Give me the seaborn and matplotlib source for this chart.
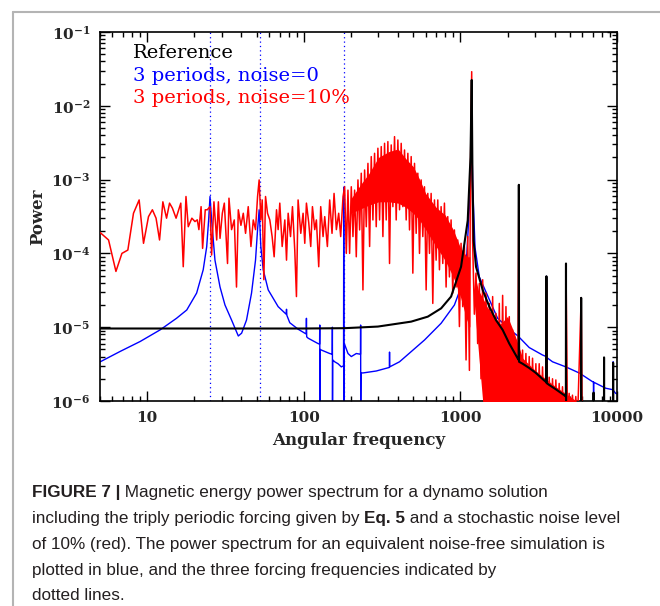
import numpy as np
import pandas as pd
import seaborn as sns
import matplotlib.pyplot as plt
from matplotlib.lines import Line2D
from matplotlib.ticker import FixedLocator, FixedFormatter, LogLocator, NullFormatter

# forcing frequencies (dotted lines)
forcing_freq = [25.2, 52.5, 180.0]

# reference run (black)
ref_freq = [5.0, 100, 182.4, 297.4, 485.1, 619.4, 753.3, 872.3, 1010, 1114, 1160, 1181, 1195, 1215,
            1258, 1388, 1530, 1687, 1861, 2052, 2318, 2355, 2362, 2370, 2495, 2751, 3034, 3428,
            3535, 3543, 3551, 3690, 4069, 4597, 4715, 4724, 4733, 5895, 5905, 5915, 7078, 7086,
            7094, 8258, 8267, 8276, 9440, 9448, 9456, 10000]
ref_power = [9.6e-6, 9.6e-6, 9.7e-6, 1.02e-5, 1.19e-5, 1.39e-5, 1.8e-5, 2.6e-5, 6.6e-5, 2.8e-4, 2.0e-3,
             2.24e-2, 1.0e-3, 1.5e-4, 6.6e-5, 3.2e-5, 1.9e-5, 1.25e-5, 9.2e-6, 6.0e-6, 3.8e-6, 3.6e-6,
             8.5e-4, 3.4e-6, 3.2e-6, 2.8e-6, 2.4e-6, 1.9e-6, 1.8e-6, 4.9e-5, 1.75e-6, 1.65e-6, 1.44e-6,
             1.2e-6, 1.15e-6, 7.3e-5, 8e-7, 7e-7, 2.5e-5, 7e-7, 7e-7, 1.3e-6, 7e-7, 7e-7, 3.9e-6,
             7e-7, 7e-7, 3.3e-6, 7e-7, 7e-7]

# 3 periods, noise=0 (blue)
blue_freq = [5.02, 6.73, 9.02, 12.1, 15.4, 17.9, 20.7, 22.8, 24.0, 24.7, 25.2, 25.8, 27.1, 29.2, 31.4,
             34.6, 38.2, 40.1, 43.1, 46.4, 49.2, 50.7, 51.9, 53.2, 55.1, 59.3, 68.6, 77.2, 77.6, 78.0,
             81.4, 92.0, 101.5, 103.6, 104.0, 104.4, 106.6, 123.4, 126.2, 126.5, 126.8, 127.2, 129.6,
             146.4, 152.0, 152.3, 152.6, 153.0, 157.6, 165.4, 173.7, 179.5, 180.0, 180.5, 181.5,
             191.6, 201.2, 216.5, 230.3, 230.7, 231.1, 231.8, 238.8, 290.3, 352.0, 352.9, 353.8,
             408.8, 589.9, 753.3, 916.0, 1010, 1100, 1160, 1181, 1200, 1240, 1321, 1729, 2208, 2355,
             2362, 2368, 2375, 2751, 3346, 3535, 3543, 3551, 3875, 4712, 5730, 5895, 5905, 5915,
             6968, 7080, 7086, 7092, 8469, 9440, 9448, 9456, 9801, 10000]
blue_power = [3.4e-6, 4.7e-6, 6.4e-6, 9.2e-6, 1.32e-5, 1.71e-5, 2.9e-5, 6.0e-5, 1.23e-4, 2.84e-4, 5.9e-4,
              2.84e-4, 8.1e-5, 3.5e-5, 2.0e-5, 1.25e-5, 7.6e-6, 8.3e-6, 1.25e-5, 2.9e-5, 8.1e-5, 2.1e-4,
              3.9e-4, 1.24e-4, 6.0e-5, 3.2e-5, 1.9e-5, 1.5e-5, 1.75e-5, 1.45e-5, 1.15e-5, 9.4e-6, 8.3e-6,
              8.1e-6, 1.32e-5, 7.4e-6, 7.1e-6, 6.0e-6, 5.9e-6, 1.07e-5, 9e-7, 5.0e-6, 4.9e-6, 4.4e-6,
              4.3e-6, 1.0e-5, 9e-7, 3.6e-6, 3.4e-6, 3.2e-6, 2.9e-6, 3.0e-6, 7.9e-4, 9e-7, 6.0e-6,
              4.4e-6, 4.0e-6, 4.4e-6, 4.3e-6, 1.07e-5, 1.0e-6, 2.4e-6, 2.4e-6, 2.55e-6, 2.85e-6, 4.6e-6,
              2.9e-6, 3.4e-6, 6.7e-6, 1.13e-5, 2.0e-5, 3.5e-5, 1.0e-4, 8e-4, 4e-3, 8e-4, 1.2e-4, 4.8e-5,
              1.32e-5, 8.3e-6, 7.5e-6, 8e-4, 9e-7, 7.3e-6, 5.3e-6, 4.2e-6, 4.0e-6, 4.9e-5, 3.9e-6,
              3.4e-6, 2.9e-6, 2.4e-6, 2.35e-6, 2.5e-5, 2.3e-6, 1.83e-6, 1.8e-6, 1.2e-6, 1.8e-6,
              1.49e-6, 1.42e-6, 3.4e-6, 1.4e-6, 1.27e-6, 1.25e-6]

# 3 periods, noise=10% (red)
red_freq = [5.02, 5.67, 6.32, 6.90, 7.53, 8.18, 8.89, 9.48, 10.2, 10.8, 11.4, 12.0, 12.6, 13.3, 13.9,
            14.5, 15.3, 16.4, 17.0, 17.7, 18.3, 19.3, 20.2, 20.9, 21.4, 22.1, 22.6, 23.5, 24.2, 25.2,
            25.8, 26.7, 27.8, 28.5, 29.2, 30.2, 31.1,
            32.6, 33.3, 34.6, 36.0, 37.2, 38.2, 39.7, 41.1, 42.5, 44.2, 46.0, 47.6, 49.2, 50.7, 51.9,
            53.2, 54.3, 55.6, 57.0, 58.7, 60.7, 62.8, 64.7, 67.0, 68.6, 70.3, 72.8, 75.7, 77.6, 79.5,
            82.3, 84.7, 87.6, 89.8, 92.0, 95.7, 99.0, 101.5, 104.0, 107.6, 110.8, 113.6, 117.5, 120.4,
            124.6, 128.3, 132.8, 136.1, 141.5, 146.4, 151.5, 156.1, 161.5, 167.1, 172.1, 178.1,
            182.4, 186.9, 191.5, 196.2, 201.1, 206.1, 211.2, 216.4, 221.8, 227.3, 232.9, 238.7,
            244.6, 250.7, 256.9, 263.3, 269.7, 276.4, 283.2, 290.2, 297.4, 304.8, 312.4, 320.1,
            328.0, 336.1, 344.4, 352.9, 361.7, 370.7, 379.8, 389.2, 398.9, 408.8, 418.9, 429.3,
            439.9, 450.8, 461.9, 473.4, 485.1, 497.1, 509.4, 522.0, 534.9, 548.2, 561.7, 575.6,
            589.9, 604.5, 619.4, 634.8, 650.5, 666.6, 683.1, 700.0, 717.3, 735.1, 753.3, 772.0,
            791.0, 810.6, 830.6, 851.2, 872.3, 893.9, 916.0, 938.7, 961.9, 985.7, 1010, 1035,
            1061, 1087, 1114, 1142, 1160, 1181,
            1198, 1228, 1258, 1289, 1321, 1354, 1388, 1422, 1457, 1493, 1530, 1568, 1607, 1647,
            1687, 1729, 1772, 1816, 1861, 1907, 1954, 2002, 2052, 2103, 2155, 2208, 2263, 2319,
            2362, 2376, 2435, 2495, 2557, 2620, 2685, 2751, 2819, 2889, 2961, 3034, 3109, 3186,
            3265, 3346, 3429, 3514, 3543, 3601, 3690, 3781, 3875, 3971, 4069, 4170, 4273, 4379,
            4487, 4598, 4712, 4724, 4829, 4948, 5071, 5196, 5325, 5456, 5591, 5905, 6000]
red_power = [1.91e-4, 1.52e-4, 5.7e-5, 1.0e-4, 1.11e-4, 3.5e-4, 5.3e-4, 1.37e-4, 3.15e-4, 3.9e-4,
             3.0e-4, 1.52e-4, 5.0e-4, 3.0e-4, 4.8e-4, 4.1e-4, 3.0e-4, 4.8e-4, 6.6e-5, 5.9e-4, 2.3e-4,
             3.0e-4, 2.7e-4, 2.85e-4, 2.1e-4, 4.3e-4, 1.17e-4, 3.9e-4, 3.9e-4, 4.3e-4, 9.5e-5, 5.0e-4,
             1.52e-4, 5.0e-4, 1.6e-4, 3.5e-4, 4.8e-4,
             7.3e-5, 5.6e-4, 2.1e-4, 2.84e-4, 3.5e-5, 3.9e-4, 2.4e-4, 3.5e-4, 1.87e-4, 4.3e-4, 1.24e-4,
             2.84e-4, 2.1e-4, 5.9e-4, 9.9e-4, 2.84e-4, 5.3e-4, 4.4e-5, 5.9e-4, 3.5e-4, 2.84e-4,
             1.69e-4, 9.0e-5, 3.9e-4, 2.1e-4, 4.8e-4, 1.24e-4, 2.84e-4, 8.1e-5, 3.5e-4, 1.69e-4,
             4.3e-4, 1.11e-4, 2.6e-5, 5.3e-4, 1.87e-4, 3.5e-4, 1.37e-4, 4.8e-4, 2.6e-4, 1.24e-4,
             4.3e-4, 2.1e-4, 2.84e-4, 6.6e-5, 4.3e-4, 1.69e-4, 3.15e-4, 1.24e-4, 5.3e-4, 1.87e-4,
             6.5e-4, 2.1e-4, 3.5e-4, 1.69e-4, 5.9e-4,
             8.0e-4, 1.0e-4, 7.2e-4, 1.0e-4, 8.0e-4, 1.69e-4, 7.2e-4, 9.0e-5, 9.9e-4, 2.08e-4,
             1.22e-3, 3.2e-5, 1.35e-3, 2.3e-4, 1.66e-3, 1.24e-4, 2.05e-3, 2.84e-4, 2.27e-3, 2.3e-4,
             2.66e-3, 2.84e-4, 2.80e-3, 1.69e-4, 3.10e-3, 2.84e-4, 3.27e-3, 7.3e-5, 2.95e-3, 4.3e-4,
             3.82e-3, 2.84e-4, 3.44e-3, 3.9e-4, 3.10e-3, 4.3e-4, 2.52e-3, 2.84e-4, 2.27e-3, 2.08e-4,
             2.05e-3, 5.4e-5, 1.66e-3, 1.87e-4, 1.22e-3, 1.0e-4, 9.9e-4, 1.69e-4, 8.0e-4, 3.2e-5,
             6.5e-4, 1.0e-4, 6.5e-4, 2.1e-5, 5.3e-4, 8.1e-5, 5.3e-4, 6.0e-5, 4.3e-4, 7.3e-5,
             4.8e-4, 3.5e-5, 3.15e-4, 4.8e-5, 2.84e-4, 2.9e-5, 2.08e-4, 3.5e-5, 1.52e-4, 1.02e-5,
             1.37e-4, 1.9e-5, 1.24e-4, 3.6e-6, 1.69e-4, 2.6e-6, 1.5e-3, 2.9e-2,
             1.37e-4, 1.5e-5, 5.4e-5, 6e-6, 3.9e-5, 2e-6, 4.4e-5, 6e-7, 2.9e-5, 5e-7, 2.1e-5, 5e-7,
             2.6e-5, 5e-7, 1.54e-5, 5e-7, 2.1e-5, 5e-7, 2.7e-5, 5e-7, 1.9e-5, 5e-7, 1.39e-5, 5e-7,
             9.2e-6, 5e-7, 6.7e-6, 5e-7, 8e-4, 6.0e-6, 5e-7, 4.9e-6, 5e-7, 4.4e-6, 5e-7, 4.0e-6,
             5e-7, 3.8e-6, 5e-7, 3.2e-6, 5e-7, 3.2e-6, 5e-7, 2.9e-6, 5e-7, 2.6e-6, 4e-5, 5e-7,
             2.1e-6, 5e-7, 2.0e-6, 5e-7, 1.93e-6, 5e-7, 1.73e-6, 5e-7, 1.56e-6, 5e-7, 1.41e-6, 7e-5,
             5e-7, 1.27e-6, 5e-7, 1.2e-6, 5e-7, 1.15e-6, 5e-7, 2.5e-5, 5e-7]

# where the noisy spectrum is so dense that it reads as solid red
band_freq = [200, 230, 260, 300, 350, 400, 450, 500, 550, 600, 700, 800, 900, 1000, 1100, 1150]
band_hi = [5.5e-4, 8.5e-4, 1.2e-3, 2.0e-3, 2.4e-3, 2.6e-3, 1.9e-3, 1.5e-3, 1.0e-3, 6.5e-4, 4.2e-4, 3.3e-4,
           2.1e-4, 1.2e-4, 9e-5, 9e-5]
band_lo = [3.5e-4, 4.0e-4, 4.5e-4, 5e-4, 5e-4, 4.8e-4, 4.2e-4, 3.5e-4, 2.8e-4, 2.1e-4, 1.24e-4, 8e-5,
           4.8e-5, 2.6e-5, 1.25e-5, 1.0e-5]
tail_freq = [1230, 1300, 1400, 1500, 1600, 1800, 2000, 2200, 2500, 3000, 3500, 4000, 4500, 5000, 5500]
tail_hi = [5.5e-5, 3.2e-5, 2.4e-5, 1.8e-5, 1.5e-5, 1.1e-5, 1.4e-5, 8.5e-6, 3.8e-6, 2.6e-6, 2.0e-6, 1.6e-6,
           1.35e-6, 1.15e-6, 1.0e-6]
tail_lo = [2e-5, 5e-6, 8e-7, 8e-7, 8e-7, 8e-7, 8e-7, 8e-7, 8e-7, 8e-7, 8e-7, 8e-7, 8e-7, 8e-7, 8e-7]

legend_labels = ["Reference", "3 periods, noise=0", "3 periods, noise=10%"]
legend_colors = ["black", "#0000ff", "#ff0000"]
x_ticks = [10, 100, 1000, 10000]
x_tick_labels = ["10", "100", "1000", "10000"]
y_ticks = [1e-6, 1e-5, 1e-4, 1e-3, 1e-2, 1e-1]
y_tick_labels = ["$10^{-6}$", "$10^{-5}$", "$10^{-4}$", "$10^{-3}$", "$10^{-2}$", "$10^{-1}$"]

caption_lines = [
    [("FIGURE 7 |", True), (" Magnetic energy power spectrum for a dynamo solution", False)],
    [("including the triply periodic forcing given by ", False), ("Eq. 5", True),
     (" and a stochastic noise level", False)],
    [("of 10% (red). The power spectrum for an equivalent noise-free simulation is", False)],
    [("plotted in blue, and the three forcing frequencies indicated by", False)],
    [("dotted lines.", False)],
]
caption_widths = [561, 591, 589, 437, 98]  # pixel width of each caption line in the original

sns.set_style("ticks")
plt.rcParams['font.family'] = ['DejaVu Serif']
plt.rcParams['mathtext.fontset'] = 'custom'
plt.rcParams['mathtext.rm'] = 'DejaVu Serif:bold'
plt.rcParams['mathtext.default'] = 'rm'

fig = plt.figure(figsize=(6.6, 6.06), dpi=100)
ax = fig.add_axes([100 / 660, 205 / 606, 517 / 660, 369 / 606])
ax.set_xscale('log')
ax.set_yscale('log')

for f in forcing_freq:  # dotted forcing lines
    ax.axvline(f, color='#0000ff', ls=(0, (1, 2.5)), lw=0.9, zorder=1)

blue = pd.DataFrame({'freq': blue_freq, 'power': blue_power})
red = pd.DataFrame({'freq': red_freq, 'power': red_power})
ref = pd.DataFrame({'freq': ref_freq, 'power': ref_power})
sns.lineplot(data=blue, x='freq', y='power', sort=False, estimator=None, color='#0000ff', lw=1.0, ax=ax, zorder=2)
ax.fill_between(band_freq, band_lo, band_hi, color='#ff0000', lw=0, zorder=3)
ax.fill_between(tail_freq, tail_lo, tail_hi, color='#ff0000', lw=0, zorder=3)
sns.lineplot(data=red, x='freq', y='power', sort=False, estimator=None, color='#ff0000', lw=1.1, ax=ax, zorder=3)
sns.lineplot(data=ref, x='freq', y='power', sort=False, estimator=None, color='black', lw=1.5, ax=ax, zorder=4)

ax.set_xlim(5, 10000)
ax.set_ylim(1e-6, 1e-1)

ax.xaxis.set_major_locator(FixedLocator(x_ticks))
ax.xaxis.set_major_formatter(FixedFormatter(x_tick_labels))
ax.yaxis.set_major_locator(FixedLocator(y_ticks))
ax.yaxis.set_major_formatter(FixedFormatter(y_tick_labels))
ax.xaxis.set_minor_locator(LogLocator(base=10, subs=np.arange(2, 10), numticks=20))
ax.yaxis.set_minor_locator(LogLocator(base=10, subs=np.arange(2, 10), numticks=20))
ax.xaxis.set_minor_formatter(NullFormatter())
ax.yaxis.set_minor_formatter(NullFormatter())
ax.tick_params(which='both', direction='in', top=True, right=True, width=1.0, color='black')
ax.tick_params(which='major', length=7, labelsize=11, pad=7)
ax.tick_params(which='minor', length=3.5)
for lab in ax.get_xticklabels():
    lab.set_fontweight('bold')
for s in ax.spines.values():
    s.set_linewidth(1.2)
    s.set_color('black')

ax.set_xlabel("Angular frequency", fontsize=12, fontweight='bold')
ax.set_ylabel("Power", fontsize=12, fontweight='bold')
ax.xaxis.set_label_coords(0.5, -0.084)
ax.yaxis.set_label_coords(-0.104, 0.5)

for i, (lab, col) in enumerate(zip(legend_labels, legend_colors)):
    ax.text(0.064, 0.942 - i * 0.061, lab, color=col, fontsize=14, transform=ax.transAxes, va='center', ha='left')

# gray frame around the figure
fig.add_artist(Line2D([13 / 660, 13 / 660], [0, 1 - 11.7 / 606], color='#b4b4b4', lw=1.5, transform=fig.transFigure))
fig.add_artist(Line2D([13 / 660, 1], [1 - 11.7 / 606, 1 - 11.7 / 606], color='#b4b4b4', lw=1.5, transform=fig.transFigure))

# caption, piece by piece for the bold parts; one size so no line is wider than in the original
cap_font = ['Liberation Sans', 'DejaVu Sans']
r = fig.canvas.get_renderer()
fits = []
for parts, target in zip(caption_lines[:3], caption_widths[:3]):
    w = 0
    for txt, bold in parts:
        p = fig.text(0, 0, txt, fontsize=14, family=cap_font, fontweight='bold' if bold else 'normal')
        w += p.get_window_extent(renderer=r).width
        p.remove()
    fits.append(14 * target / w)
cap_size = min(fits)
line_y = [492, 518.5, 544.5, 570, 595]
for yy, parts in zip(line_y, caption_lines):
    x = 32 / 660
    for txt, bold in parts:
        t = fig.text(x, 1 - yy / 606, txt, fontsize=cap_size, family=cap_font, fontweight='bold' if bold else 'normal',
                     va='center', ha='left', color='#231f20')
        bb = t.get_window_extent(renderer=r)
        x = x + bb.width / fig.bbox.width

fig.savefig("out.png", dpi=100)
